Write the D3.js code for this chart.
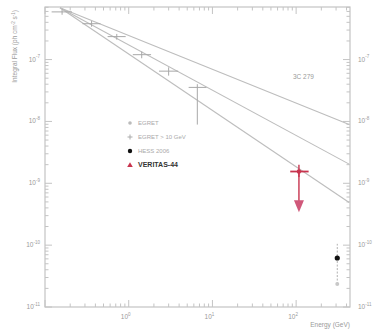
<!DOCTYPE html>
<html><head><meta charset="utf-8">
<script src="https://cdn.jsdelivr.net/npm/d3@7"></script>
<style>
body{margin:0;background:#fff}
svg{display:block}
text{font-family:"Liberation Sans",Arial,sans-serif}
</style>
</head><body>
<svg id="c" width="381" height="336"></svg>
<script>
// EGRET integral flux points (GeV, ph cm^-2 s^-1)
const egretEnergy  = [0.16, 0.36, 0.72, 1.43, 3.0, 6.6];
const egretEmin    = [0.12, 0.28, 0.56, 1.12, 2.3, 5.2];
const egretEmax    = [0.21, 0.46, 0.92, 1.85, 3.9, 8.5];
const egretFlux    = [5.9e-7, 3.8e-7, 2.35e-7, 1.2e-7, 6.5e-8, 3.55e-8];
const egretFluxLo  = [5.3e-7, 3.4e-7, 2.1e-7, 1.05e-7, 5.5e-8, 8.9e-9];
const egretFluxHi  = [6.5e-7, 4.2e-7, 2.6e-7, 1.35e-7, 7.5e-8, 4.0e-8];

// power-law extrapolations: [E, F] at both ends
const fitUpper  = [[0.151, 6.9e-7], [430, 8.9e-9]];
const fitMiddle = [[0.151, 6.9e-7], [430, 2.04e-9]];
const fitLower  = [[0.151, 6.9e-7], [430, 4.9e-10]];

// upper limit from the new measurement
const ulEnergy = [108], ulEmin = [85], ulEmax = [141];
const ulFlux = [1.55e-9], ulFluxLo = [1.26e-9], ulFluxHi = [2.0e-9], ulArrowTo = [3.4e-10];

// ground-based detection
const detEnergy = [310], detFlux = [6.2e-11], detFluxLo = [2.35e-11], detFluxHi = [1.05e-10];

const xTicks = [1, 10, 100];
const xTickExp = ["0", "1", "2"];
const yTicks = [1e-7, 1e-8, 1e-9, 1e-10, 1e-11];
const yTickExp = ["-7", "-8", "-9", "-10", "-11"];

const legendLabels = ["EGRET", "EGRET > 10 GeV", "HESS 2006", "VERITAS-44"];
const sourceName = "3C 279";

const svg = d3.select("#c");
const L = 45, R = 350, T = 7, B = 307;
const x = d3.scaleLog().domain([0.1, 440]).range([L, R]);
const y = d3.scaleLog().domain([1e-11, Math.pow(10, -6.15)]).range([B, T]);

const axisCol = "#c4c4c4", textCol = "#9a9a9a";

// frame
svg.append("rect").attr("x", L).attr("y", T).attr("width", R - L).attr("height", B - T)
  .attr("fill", "none").attr("stroke", axisCol).attr("stroke-width", 1.2);

// log ticks (major + minor)
const g = svg.append("g").attr("stroke", axisCol).attr("stroke-width", 1);
function minorList(lo, hi) {
  const out = [];
  for (let e = Math.floor(Math.log10(lo)); e <= Math.ceil(Math.log10(hi)); e++)
    for (let m = 1; m < 10; m++) { const v = m * Math.pow(10, e); if (v >= lo && v <= hi) out.push({v, major: m === 1}); }
  return out;
}
minorList(0.1, 440).forEach(t => {
  const len = t.major ? 7 : 3.5, px = x(t.v);
  g.append("line").attr("x1", px).attr("x2", px).attr("y1", B).attr("y2", B - len);
  g.append("line").attr("x1", px).attr("x2", px).attr("y1", T).attr("y2", T + len);
});
minorList(1e-11, Math.pow(10, -6.15)).forEach(t => {
  const len = t.major ? 7 : 3.5, py = y(t.v);
  g.append("line").attr("y1", py).attr("y2", py).attr("x1", L).attr("x2", L + len);
  g.append("line").attr("y1", py).attr("y2", py).attr("x1", R).attr("x2", R - len);
});

function powLabel(sel, px, py, exp, anchor) {
  const t = sel.append("text").attr("x", px).attr("y", py).attr("fill", textCol)
    .attr("font-size", 6.5).attr("text-anchor", anchor);
  t.append("tspan").text("10");
  t.append("tspan").attr("dy", -3.5).attr("font-size", 4.5).text(exp);
}
xTicks.forEach((v, i) => powLabel(svg, x(v) - 3, B + 12, xTickExp[i], "middle"));
yTicks.forEach((v, i) => {
  powLabel(svg, L - 5, y(v) + 2, yTickExp[i], "end");
  powLabel(svg, R + 8, y(v) + 2, yTickExp[i], "start");
});

// axis titles
svg.append("text").attr("x", R).attr("y", B + 20).attr("text-anchor", "end")
  .attr("fill", textCol).attr("font-size", 6.5).text("Energy (GeV)");
const yt = svg.append("text").attr("transform", `translate(17,${T + 3}) rotate(-90)`)
  .attr("text-anchor", "end").attr("fill", textCol).attr("font-size", 6.5);
yt.append("tspan").text("Integral Flux (ph cm");
yt.append("tspan").attr("dy", -2.5).attr("font-size", 4.5).text("-2");
yt.append("tspan").attr("dy", 2.5).text(" s");
yt.append("tspan").attr("dy", -2.5).attr("font-size", 4.5).text("-1");
yt.append("tspan").attr("dy", 2.5).text(")");

// clipped plotting area
svg.append("clipPath").attr("id", "plot").append("rect")
  .attr("x", L).attr("y", T).attr("width", R - L).attr("height", B - T);
const p = svg.append("g").attr("clip-path", "url(#plot)");

const line = d3.line().x(d => x(d[0])).y(d => y(d[1]));
[fitUpper, fitMiddle, fitLower].forEach(f =>
  p.append("path").attr("d", line(f)).attr("fill", "none").attr("stroke", "#bdbdbd").attr("stroke-width", 1.1));

// EGRET crosses
const eg = p.append("g").attr("stroke", "#a8a8a8").attr("stroke-width", 1);
egretEnergy.forEach((e, i) => {
  eg.append("line").attr("x1", x(egretEmin[i])).attr("x2", x(egretEmax[i])).attr("y1", y(egretFlux[i])).attr("y2", y(egretFlux[i]));
  eg.append("line").attr("x1", x(e)).attr("x2", x(e)).attr("y1", y(egretFluxLo[i])).attr("y2", y(egretFluxHi[i]));
});

// upper limit (red) with arrow
const red = "#c8344e";
const rg = p.append("g").attr("stroke", red).attr("stroke-width", 1.4);
ulEnergy.forEach((e, i) => {
  const cx = x(e), cy = y(ulFlux[i]);
  rg.append("line").attr("x1", x(ulEmin[i])).attr("x2", x(ulEmax[i])).attr("y1", cy).attr("y2", cy).attr("stroke-width", 1.8);
  rg.append("line").attr("x1", cx).attr("x2", cx).attr("y1", y(ulFluxLo[i])).attr("y2", y(ulFluxHi[i]));
  const ty = y(ulArrowTo[i]);
  rg.append("line").attr("x1", cx).attr("x2", cx).attr("y1", cy).attr("y2", ty - 10);
  p.append("path").attr("d", `M${cx - 5},${ty - 12}L${cx + 5},${ty - 12}L${cx},${ty}Z`).attr("fill", "#d0587a");
  p.append("circle").attr("cx", cx).attr("cy", cy).attr("r", 2.2).attr("fill", red);
});

// detection (black)
detEnergy.forEach((e, i) => {
  const cx = x(e);
  p.append("line").attr("x1", cx).attr("x2", cx).attr("y1", y(detFluxLo[i])).attr("y2", y(detFluxHi[i]))
    .attr("stroke", "#b0b0b0").attr("stroke-dasharray", "2,1.5");
  p.append("circle").attr("cx", cx).attr("cy", y(detFluxLo[i])).attr("r", 2).attr("fill", "#c8c8c8");
  p.append("circle").attr("cx", cx).attr("cy", y(detFlux[i])).attr("r", 2.6).attr("fill", "#111");
});

// source name
svg.append("text").attr("x", 293).attr("y", 79).attr("fill", textCol).attr("font-size", 6.5).text(sourceName);

// legend
const lg = svg.append("g").attr("transform", "translate(130,123)");
legendLabels.forEach((lab, i) => {
  const row = lg.append("g").attr("transform", `translate(0,${i * 14})`);
  if (i === 0) row.append("circle").attr("r", 1.8).attr("fill", "#bbb");
  if (i === 1) row.append("path").attr("d", "M-2.5,0H2.5M0,-2.5V2.5").attr("stroke", "#aaa");
  if (i === 2) row.append("circle").attr("r", 2.2).attr("fill", "#111");
  if (i === 3) row.append("path").attr("d", "M-2.8,2L2.8,2L0,-2.8Z").attr("fill", red);
  row.append("text").attr("x", 8).attr("y", 2.3).attr("font-size", i === 3 ? 7 : 6)
    .attr("font-weight", i === 3 ? "bold" : "normal")
    .attr("fill", i === 3 ? "#333" : "#aaa").text(lab);
});
</script>
</body></html>
